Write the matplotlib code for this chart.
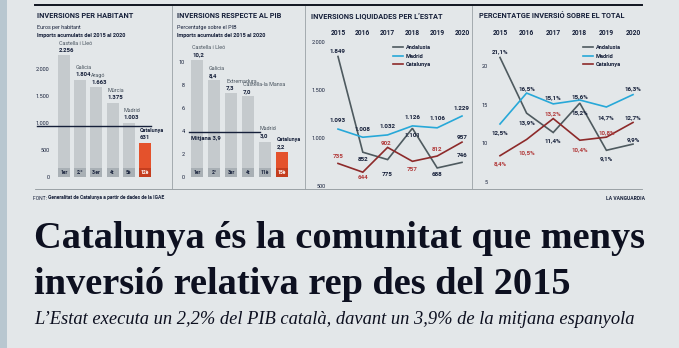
import matplotlib
matplotlib.use("Agg")
import matplotlib.pyplot as plt
from matplotlib.lines import Line2D

hab_regions = ["Castella i Lleó", "Galicia", "Aragó", "Múrcia", "Madrid", "Catalunya"]
hab_values = [2256, 1804, 1663, 1375, 1003, 631]
hab_labels = ["2.256", "1.804", "1.663", "1.375", "1.003", "631"]
hab_ranks = ["1er", "2.º", "3.er", "4t", "5è", "12è"]
hab_mean = 940

pib_regions = ["Castella i Lleó", "Galicia", "Extremadura", "Castella-la Manxa", "Madrid", "Catalunya"]
pib_values = [10.2, 8.4, 7.3, 7.0, 3.0, 2.2]
pib_labels = ["10,2", "8,4", "7,3", "7,0", "3,0", "2,2"]
pib_ranks = ["1er", "2º", "3er", "4t", "11è", "15è"]
pib_mean = 3.9

years = [2015, 2016, 2017, 2018, 2019, 2020]
series = ["Andalusia", "Madrid", "Catalunya"]
liq_andalusia = [1849, 852, 775, 1101, 688, 746]
liq_madrid = [1093, 1008, 1032, 1126, 1106, 1229]
liq_catalunya = [735, 644, 902, 757, 812, 957]
pct_andalusia = [21.1, 13.9, 11.4, 15.2, 9.1, 9.9]
pct_madrid = [12.5, 16.5, 15.1, 15.6, 14.7, 16.3]
pct_catalunya = [8.4, 10.5, 13.2, 10.4, 10.8, 12.7]

W, H = 679, 348
NAVY = "#16203a"
GREY_TXT = "#4a5560"
BAR = "#c5cacd"
BAR_DARK = "#a9b0b5"
RED = "#e4522c"
RED_DARK = "#c43d1e"
COLORS = {"Andalusia": "#4e5a5f", "Madrid": "#27a8d8", "Catalunya": "#8d2a2a"}
CAT_TXT = "#b23c3c"
SANS = ["Roboto", "DejaVu Sans"]
SERIF = ["Liberation Serif", "DejaVu Serif"]

plt.rcParams["font.family"] = SANS

fig = plt.figure(figsize=(W / 100, H / 100), dpi=100)
fig.patch.set_facecolor("#e3e7e9")

bg = fig.add_axes([0, 0, 1, 1])
bg.set_xlim(0, W)
bg.set_ylim(H, 0)
bg.axis("off")
bg.add_patch(plt.Rectangle((0, 0), 7, H, color="#b8c7d0", lw=0))
bg.plot([35, 642], [5, 5], color="#101520", lw=1.4)
bg.plot([35, 642], [189, 189], color="#8f969b", lw=0.6)
for xs in (172, 305, 472):
    bg.plot([xs, xs], [6, 189], color="#9aa1a6", lw=0.6)


def px_axes(x0, y0, x1, y1):
    return fig.add_axes([x0 / W, 1 - y1 / H, (x1 - x0) / W, (y1 - y0) / H])


def limits(lo_px, hi_px, p1, v1, p2, v2):
    b = (p2 - p1) / (v2 - v1)
    return (lo_px - p1) / b + v1, (hi_px - p1) / b + v1


def style(ax):
    ax.set_facecolor("none")
    for s in ax.spines.values():
        s.set_visible(False)
    ax.tick_params(length=0, labelsize=4.0, labelcolor=NAVY, pad=1)


def panel_title(x, title, sub=None, sub2=None):
    bg.text(x, 16, title, fontsize=5.3, fontweight="bold", color=NAVY, va="center")
    if sub:
        bg.text(x, 27, sub, fontsize=3.9, color=NAVY, va="center")
    if sub2:
        bg.text(x, 35, sub2, fontsize=4.0, fontweight="bold", color=NAVY, va="center")


def bar_panel(box, px0, pxstep, k, ymax_ticks, regions, values, labels, ranks, mean,
              mean_label, mean_span, tick_fmt, named_offsets):
    x0, y0, x1, y1 = box
    ax = px_axes(x0, y0, x1, y1)
    style(ax)
    ax.set_xlim(*limits(x0, x1, px0, 0, px0 + pxstep, 1))
    ax.set_ylim(*limits(y1, y0, 177, 0, 177 - k, 1))
    idx = list(range(len(values)))
    width = 12 / pxstep
    colors = [BAR] * (len(values) - 1) + [RED]
    darks = [BAR_DARK] * (len(values) - 1) + [RED_DARK]
    ax.bar(idx, values, width=width, color=colors, lw=0)
    box_h = 9 / k
    ax.bar(idx, [box_h] * len(values), width=width, color=darks, lw=0)
    for i, r in enumerate(ranks):
        ax.text(i, box_h / 2, r, ha="center", va="center", fontsize=3.6,
                fontweight="bold", color="white" if i == len(values) - 1 else NAVY)
    ax.set_yticks(ymax_ticks)
    ax.set_yticklabels([tick_fmt(t) for t in ymax_ticks])
    ax.set_xticks([])
    ax.plot(mean_span, [mean, mean], color=NAVY, lw=1.0, clip_on=False)
    ax.annotate(mean_label, (mean_span[0], mean), xytext=(2, -6), textcoords="offset pixels",
                fontsize=4.2, fontweight="bold", color=NAVY, va="center")
    last = len(values) - 1
    for i, (name, v, lab) in enumerate(zip(regions, values, labels)):
        bold_name = i == last
        off = named_offsets.get(i, 0)
        ax.annotate(name, (i - width / 2, v), xytext=(1, 12 + off), textcoords="offset pixels",
                    fontsize=3.9, fontweight="bold" if bold_name else "normal",
                    color=NAVY if bold_name else GREY_TXT, va="center")
        ax.annotate(lab, (i - width / 2, v), xytext=(1, 5 + off), textcoords="offset pixels",
                    fontsize=4.3, fontweight="bold", color=NAVY, va="center")
    return ax


# panel 1: inversions per habitant
panel_title(37, "INVERSIONS PER HABITANT", "Euros per habitant", "Imports acumulats del 2015 al 2020")
bar_panel((51, 40, 165, 186), 64, 16.2, 0.054, [0, 500, 1000, 1500, 2000],
          hab_regions, hab_values, hab_labels, hab_ranks, hab_mean, "Mitjana 940",
          [-1.65, 5.4], lambda t: f"{t:,}".replace(",", "."), {})

# panel 2: inversions respecte al PIB
panel_title(177, "INVERSIONS RESPECTE AL PIB", "Percentatge sobre el PIB", "Imports acumulats del 2015 al 2020")
bar_panel((186, 40, 300, 186), 197, 17.0, 11.5, [0, 2, 4, 6, 8, 10],
          pib_regions, pib_values, pib_labels, pib_ranks, pib_mean, "Mitjana 3,9",
          [-0.5, 3.7], lambda t: f"{t}", {4: 2})


def line_panel(box, px2015, pxstep, ymap, yticks, tick_fmt, data, labels_fmt, offsets, legend_xy):
    x0, y0, x1, y1 = box
    ax = px_axes(x0, y0, x1, y1)
    style(ax)
    ax.set_xlim(*limits(x0, x1, px2015, 2015, px2015 + pxstep, 2016))
    ax.set_ylim(*limits(y1, y0, *ymap))
    ax.set_yticks(yticks)
    ax.set_yticklabels([tick_fmt(t) for t in yticks])
    ax.xaxis.tick_top()
    ax.set_xticks(years)
    ax.set_xticklabels([str(y) for y in years], fontsize=4.8, fontweight="bold")
    for name, vals in zip(series, data):
        ax.plot(years, vals, color=COLORS[name], lw=1.2, solid_joinstyle="miter")
    for name, vals in zip(series, data):
        for j, (yr, v) in enumerate(zip(years, vals)):
            dx, dy = offsets[name][j]
            col = CAT_TXT if (name == "Catalunya" and j < len(years) - 1) else NAVY
            ax.annotate(labels_fmt(v), (yr, v), xytext=(dx, -dy), textcoords="offset pixels",
                        ha="center", va="center", fontsize=4.5, fontweight="bold", color=col)
    handles = [Line2D([], [], color=COLORS[n], lw=1.2) for n in series]
    leg = ax.legend(handles, series, loc="center left", frameon=False, fontsize=4.1,
                    bbox_to_anchor=(legend_xy[0] / W, 1 - legend_xy[1] / H),
                    bbox_transform=fig.transFigure, handlelength=1.7, handletextpad=0.6,
                    labelspacing=0.55, borderpad=0, borderaxespad=0)
    for t in leg.get_texts():
        t.set_color(NAVY)
        t.set_fontweight("bold")
    return ax


# panel 3: inversions liquidades per l'estat
bg.text(311, 16, "INVERSIONS LIQUIDADES PER L\u2019ESTAT", fontsize=5.3, fontweight="bold",
        color=NAVY, va="center")
liq_offsets = {
    "Andalusia": [(0, -5), (0, 7), (0, 15), (0, 7), (0, 7), (0, -7)],
    "Madrid": [(0, -9), (0, -8), (0, -8), (0, -8), (0, -9), (0, -8)],
    "Catalunya": [(0, -7), (0, 5), (-2, -4), (0, 8), (0, -7), (0, -5)],
}
line_panel((327, 38, 470, 192), 338, 24.8, (186, 500, 42, 2000), [500, 1000, 1500, 2000],
           lambda t: f"{t:,}".replace(",", "."),
           [liq_andalusia, liq_madrid, liq_catalunya],
           lambda v: f"{v:,}".replace(",", "."), liq_offsets, (393, 56))

# panel 4: percentatge inversio sobre el total
bg.text(479, 16, "PERCENTATGE INVERSIÓ SOBRE EL TOTAL", fontsize=5.3, fontweight="bold",
        color=NAVY, va="center")
pct_offsets = {
    "Andalusia": [(0, -6), (0, 10), (0, 8), (0, 10), (0, 9), (0, -4)],
    "Madrid": [(0, 9), (0, -4), (0, -6), (0, -3), (0, 11), (0, -6)],
    "Catalunya": [(0, 8), (0, 13), (0, -5), (0, 10), (0, -4), (0, -5)],
}
line_panel((489, 38, 645, 190), 500, 26.6, (66, 20, 182, 5), [5, 10, 15, 20],
           lambda t: f"{t}",
           [pct_andalusia, pct_madrid, pct_catalunya],
           lambda v: f"{v:.1f}%".replace(".", ","), pct_offsets, (583, 56))

# footer
t_font = bg.text(33, 198, "FONT: ", fontsize=3.6, color=NAVY, va="center")
bg.annotate("Generalitat de Catalunya a partir de dades de la IGAE", xy=(1, 0.5),
            xycoords=t_font, va="center", fontsize=3.6, fontweight="bold", color=NAVY)
bg.text(645, 198, "LA VANGUARDIA", fontsize=3.6, fontweight="bold", color=NAVY,
        ha="right", va="center")

# headline
bg.text(34, 248, "Catalunya és la comunitat que menys", family=SERIF, fontsize=27.6,
        fontweight="bold", color="#0d1020", va="baseline")
bg.text(34, 294, "inversió relativa rep des del 2015", family=SERIF, fontsize=27.6,
        fontweight="bold", color="#0d1020", va="baseline")
bg.text(34, 324, "L\u2019Estat executa un 2,2% del PIB català, davant un 3,9% de la mitjana espanyola",
        family=SERIF, fontsize=13.3, style="italic", color="#0d1020", va="baseline")

fig.savefig("out.png", dpi=100, facecolor=fig.get_facecolor())
